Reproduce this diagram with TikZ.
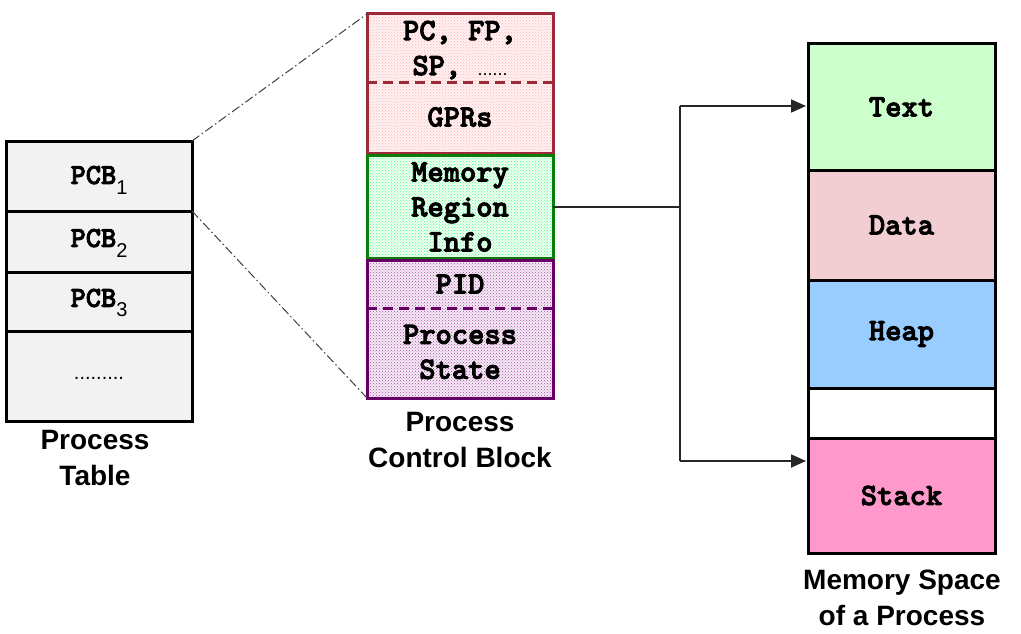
\documentclass[tikz,border=0pt]{standalone}
\usepackage{fontspec}
\setmainfont{Liberation Sans}
\newfontfamily\cour[FakeBold=3]{lmmonolt10-bold.otf}
\usetikzlibrary{arrows.meta,patterns}
\definecolor{redb}{HTML}{9B2A3A}
\definecolor{greenb}{HTML}{0A7D0A}
\definecolor{purpb}{HTML}{660066}
\definecolor{tabgray}{HTML}{F2F2F2}
\definecolor{memtext}{HTML}{CCFFCC}
\definecolor{memdata}{HTML}{F2CED3}
\definecolor{memheap}{HTML}{99CCFF}
\definecolor{memstack}{HTML}{FF99CC}
\tikzset{
  x=1pt, y=-1pt,
  cell/.style={draw, line width=3pt, anchor=north west, inner sep=0pt, outer sep=0pt},
  ctext/.style={font=\cour\fontsize{31}{35}\selectfont, align=center, inner sep=0pt},
  ttext/.style={font=\cour\fontsize{29}{32}\selectfont, inner sep=0pt},
  lab/.style={font=\bfseries\fontsize{28}{36}\selectfont, align=center, inner sep=0pt},
  dd/.style={line width=1pt, black!75, dash pattern=on 9pt off 3pt on 1.5pt off 3pt},
  sep/.style={line width=3pt, dash pattern=on 10pt off 6pt},
  conn/.style={line width=1.8pt, black!85},
  arr/.style={conn, -{Triangle[length=15pt,width=13pt]}},
}
\newcommand{\sub}[1]{\raisebox{-0.35em}{\normalfont\fontsize{20}{20}\selectfont #1}}
\begin{document}
\begin{tikzpicture}
\useasboundingbox (0,0) rectangle (1021,634);
% Process table
\node[cell, fill=tabgray, minimum width=186pt, minimum height=70pt] (t1) at (6,141) {};
\node[cell, fill=tabgray, minimum width=186pt, minimum height=61pt] (t2) at (6,211) {};
\node[cell, fill=tabgray, minimum width=186pt, minimum height=59pt] (t3) at (6,272) {};
\node[cell, fill=tabgray, minimum width=186pt, minimum height=90pt] (t4) at (6,331) {};
\node[ttext] (l1) at (99,180) {PCB\sub{1}};
\node[ttext] (l2) at (99,243) {PCB\sub{2}};
\node[ttext] (l3) at (99,303) {PCB\sub{3}};
\node[font=\normalfont\fontsize{20}{20}\selectfont, inner sep=0pt] (l4) at (99,378) {.........};
\node[lab] (ptl) at (95,458) {Process\\Table};
% PCB
\node[cell, draw=redb, minimum width=186pt, minimum height=139pt,
  preaction={fill=red!5}, pattern=crosshatch dots, pattern color=red!30] (red) at (367,14) {};
\draw[sep, redb] (red.west |- 0,83) coordinate (rs1) -- (red.east |- 0,83) coordinate (rs2);
\node[cell, draw=greenb, minimum width=186pt, minimum height=103pt,
  preaction={fill=green!6}, pattern=crosshatch dots, pattern color=green!60!cyan!70] (grn) at (367,155) {};
\node[cell, draw=purpb, minimum width=186pt, minimum height=138pt,
  preaction={fill=violet!8}, pattern=crosshatch dots, pattern color=violet!70] (pur) at (367,260) {};
\draw[sep, purpb] (pur.west |- 0,308) coordinate (ps1) -- (pur.east |- 0,308) coordinate (ps2);
\node[ctext] (pc) at (460,50) {PC, FP,\\SP, {\normalfont\fontsize{18}{18}\selectfont ......}};
\node[ctext] (gpr) at (460,117) {GPRs};
\node[ctext] (mri) at (460,207) {Memory\\Region\\Info};
\node[ctext] (pid) at (460,284) {PID};
\node[ctext] (pst) at (460,352) {Process\\State};
\node[lab] (pcbl) at (460,440) {Process\\Control Block};
% dash-dot lines
\draw[dd] (t1.north east) -- (red.north west);
\draw[dd] (t1.south east) -- (pur.south west);
% Memory
\node[cell, fill=memtext, minimum width=187pt, minimum height=126pt] (mt) at (808,44) {};
\node[cell, fill=memdata, minimum width=187pt, minimum height=110pt] (md) at (808,170) {};
\node[cell, fill=memheap, minimum width=187pt, minimum height=108pt] (mh) at (808,280) {};
\node[cell, fill=white, minimum width=187pt, minimum height=50pt] (mf) at (808,388) {};
\node[cell, fill=memstack, minimum width=187pt, minimum height=115pt] (ms) at (808,438) {};
\node[ctext] at (mt.center) {Text};
\node[ctext] at (md.center) {Data};
\node[ctext] at (mh.center) {Heap};
\node[ctext] at (ms.center) {Stack};
\node[lab] (msl) at (902,598) {Memory Space\\of a Process};
% connectors
\coordinate (j) at (680,207);
\coordinate (ja) at (680,106);
\coordinate (jb) at (680,461);
\coordinate (sa) at (806,461);
\coordinate (ta) at (806,106);
\draw[conn] (grn.east |- j) -- (j);
\draw[conn] (ja) -- (jb);
\draw[arr] (ja) -- (ta);
\draw[arr] (jb) -- (sa);
\end{tikzpicture}
\end{document}
